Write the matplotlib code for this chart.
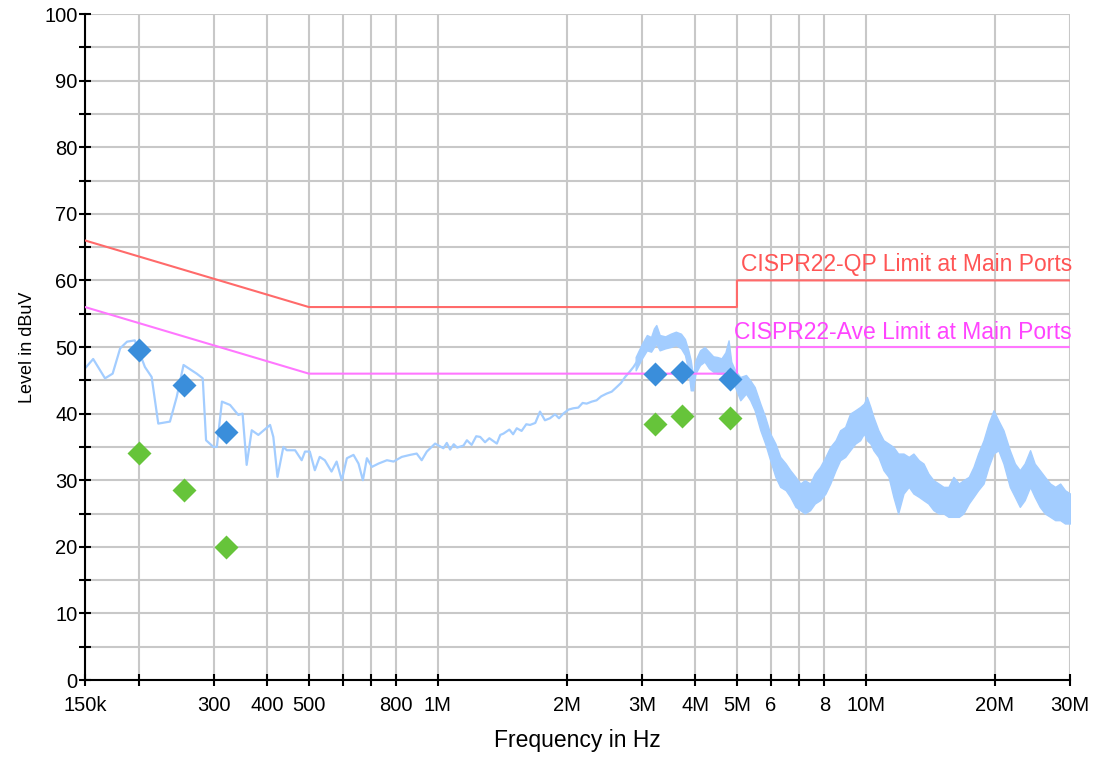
import matplotlib
matplotlib.use("Agg")
import matplotlib.pyplot as plt

plt.rcParams['font.family'] = ['Liberation Sans', 'DejaVu Sans']

# measured trace (MHz, dBuV), clean part below 3 MHz
trace_freq = [0.150, 0.1567, 0.167, 0.174, 0.1812, 0.188, 0.196, 0.207, 0.2146, 0.2224,
              0.2368, 0.2456, 0.2548, 0.2735, 0.2825, 0.2876, 0.2991, 0.3048, 0.3132, 0.3272,
              0.3421, 0.350, 0.3578, 0.3677, 0.381, 0.4058, 0.413, 0.4223, 0.4359, 0.444,
              0.4643, 0.481, 0.4897, 0.5025, 0.5163, 0.530, 0.5448, 0.5648, 0.5805, 0.5967,
              0.6134, 0.6357, 0.653, 0.6686, 0.6832, 0.7018, 0.7273, 0.7609, 0.7885, 0.824,
              0.8616, 0.893, 0.9173, 0.943, 0.986, 1.031, 1.05, 1.069, 1.09, 1.11,
              1.1486, 1.17, 1.20, 1.23, 1.2565, 1.29, 1.32, 1.3744, 1.40, 1.4243,
              1.47, 1.50, 1.53, 1.57, 1.61, 1.6434, 1.69, 1.7335, 1.78, 1.829,
              1.88, 1.92, 1.965, 2.02, 2.073, 2.13, 2.18, 2.228, 2.29, 2.35,
              2.41, 2.48, 2.55, 2.62, 2.68, 2.74, 2.80, 2.866, 2.92]
trace_level = [46.8, 48.2, 45.3, 46.0, 49.8, 50.8, 51.0, 47.0, 45.5, 38.5,
               38.8, 42.5, 47.3, 46.0, 45.3, 36.0, 35.0, 35.0, 41.8, 41.3,
               39.8, 40.0, 32.3, 37.5, 36.8, 38.3, 36.5, 30.5, 35.0, 34.5,
               34.5, 33.0, 34.3, 34.3, 31.5, 33.5, 33.0, 31.3, 32.8, 30.0,
               33.3, 33.8, 32.5, 30.0, 33.3, 32.0, 32.5, 33.0, 32.8, 33.5,
               33.8, 34.0, 33.0, 34.3, 35.5, 34.8, 35.6, 34.6, 35.4, 34.9,
               35.2, 36.0, 35.3, 36.6, 36.5, 35.7, 36.3, 35.5, 36.8, 37.0,
               37.6, 36.9, 37.8, 37.4, 38.4, 38.3, 38.6, 40.3, 39.0, 39.3,
               39.9, 39.3, 40.0, 40.6, 40.8, 40.9, 41.6, 41.5, 41.8, 42.0,
               42.6, 43.0, 43.3, 44.0, 44.6, 45.5, 46.2, 47.0, 47.8]

# noisy part above ~3 MHz: upper / lower edge of the trace band
band_freq = [2.90, 3.0, 3.08, 3.15, 3.2, 3.24, 3.3, 3.4, 3.5, 3.6,
             3.7, 3.78, 3.85, 3.9, 3.95, 4.0, 4.1, 4.2, 4.3, 4.4,
             4.5, 4.6, 4.7, 4.78, 4.85, 4.95, 5.09, 5.25, 5.37, 5.5,
             5.67, 5.82, 5.98, 6.15, 6.31, 6.5, 6.66, 6.85, 7.03, 7.2,
             7.41, 7.6, 7.82, 8.05, 8.26, 8.5, 8.71, 8.95, 9.19, 9.45,
             9.70, 9.9, 10.06, 10.25, 10.42, 10.7, 11.0, 11.3, 11.6, 11.9,
             12.25, 12.6, 12.92, 13.3, 13.64, 14.0, 14.39, 14.8, 15.19, 15.6,
             16.02, 16.5, 16.9, 17.4, 17.85, 18.3, 18.84, 19.35, 19.88, 20.4,
             20.97, 21.7, 22.3, 22.9, 23.5, 24.2, 24.8, 25.5, 26.2, 26.96,
             27.7, 28.45, 29.2, 30.0]
band_hi = [48.5, 50.5, 51.8, 51.5, 52.8, 53.3, 51.8, 51.6, 52.0, 52.3,
           52.0, 51.2, 49.5, 48.0, 45.5, 48.0, 49.5, 50.0, 49.3, 48.6,
           48.5, 48.3, 49.2, 51.0, 47.8, 46.5, 45.5, 45.8, 45.0, 44.0,
           41.5, 39.5, 37.0, 35.5, 33.5, 32.5, 31.5, 30.5, 29.5, 30.0,
           29.5, 31.0, 32.0, 33.5, 35.0, 36.0, 37.5, 38.0, 40.0, 40.5,
           41.0, 41.5, 42.5, 41.0, 39.5, 37.5, 36.0, 35.5, 35.0, 34.0,
           34.0, 33.5, 34.0, 33.0, 32.5, 31.0, 30.0, 29.5, 29.0, 29.0,
           30.5, 29.5, 30.0, 30.5, 32.0, 34.0, 36.0, 38.5, 40.5, 39.0,
           37.5, 34.5, 32.5, 31.5, 32.5, 34.5, 32.5, 31.5, 30.5, 29.5,
           29.0, 29.5, 28.5, 28.0]
band_lo = [46.5, 48.3, 49.5, 49.3, 50.0, 50.5, 49.5, 49.8, 50.0, 50.3,
           49.8, 48.8, 46.5, 43.5, 43.5, 46.0, 47.3, 47.8, 46.8, 46.3,
           46.0, 46.0, 46.5, 46.5, 45.0, 44.0, 42.0, 43.0, 42.0, 40.5,
           37.5, 35.5, 33.0, 30.5, 29.0, 28.5, 27.5, 26.0, 25.5, 25.0,
           25.5, 26.5, 27.0, 28.0, 29.5, 31.5, 33.0, 33.5, 34.5, 35.5,
           36.0, 37.0, 36.0, 35.5, 34.5, 33.5, 31.5, 30.5, 27.5, 25.0,
           28.0, 29.0, 28.0, 27.5, 27.0, 26.5, 25.5, 25.0, 25.0, 24.5,
           24.5, 24.5, 25.0, 26.5, 27.5, 28.5, 29.5, 32.0, 34.0, 34.5,
           32.5, 29.0, 27.5, 26.0, 27.0, 29.0, 27.5, 26.0, 25.0, 24.5,
           24.0, 24.0, 23.5, 23.5]

# limits
qp_freq = [0.15, 0.5, 5, 5, 30]
qp_level = [66, 56, 56, 60, 60]
ave_freq = [0.15, 0.5, 5, 5, 30]
ave_level = [56, 46, 46, 50, 50]

# final measurement points
final_freq = [0.200, 0.255, 0.320, 3.22, 3.72, 4.82]
qp_final = [49.5, 44.3, 37.3, 45.9, 46.2, 45.2]
ave_final = [34.1, 28.5, 20.0, 38.4, 39.6, 39.3]

xticks = [0.15, 0.2, 0.3, 0.4, 0.5, 0.6, 0.7, 0.8, 1, 2, 3, 4, 5, 6, 7, 8, 10, 20, 30]
xlabels = ['150k', '', '300', '400', '500', '', '', '800', '1M', '2M', '3M', '4M', '5M',
           '6', '', '8', '10M', '20M', '30M']

trace_col = '#a3cdff'

fig = plt.figure(figsize=(10.96, 7.58), dpi=100)
ax = fig.add_axes([0.0776, 0.1029, 0.8987, 0.8786])

ax.plot(trace_freq, trace_level, color=trace_col, lw=1.6, zorder=2)
ax.fill_between(band_freq, band_lo, band_hi, color=trace_col, lw=1.0, zorder=2)

ax.plot(qp_freq, qp_level, color='#ff6a6a', lw=1.5, zorder=3)
ax.plot(ave_freq, ave_level, color='#ff77ff', lw=1.5, zorder=3)
ax.text(5.12, 62.4, 'CISPR22-QP Limit at Main Ports', color='#ff5555', fontsize=16.5,
        va='center', ha='left')
ax.text(4.92, 52.2, 'CISPR22-Ave Limit at Main Ports', color='#ff44ff', fontsize=16.5,
        va='center', ha='left')

ax.plot(final_freq, qp_final, 'D', color='#3a8edb', ms=12, mec='none', zorder=4)
ax.plot(final_freq, ave_final, 'D', color='#66c43a', ms=12, mec='none', zorder=4)

ax.set_xscale('log')
ax.set_xlim(0.15, 30)
ax.set_ylim(0, 100)
ax.set_xticks(xticks)
ax.set_xticklabels(xlabels)
ax.minorticks_off()
ax.set_yticks(range(0, 101, 10))
ax.set_yticks(range(5, 100, 10), minor=True)

ax.grid(True, which='both', color='#c8c8c8', lw=1.5, zorder=0)
ax.set_axisbelow(True)
for s in ['top', 'right']:
    ax.spines[s].set_visible(False)
for s in ['left', 'bottom']:
    ax.spines[s].set_linewidth(1.5)
ax.tick_params(axis='both', which='both', direction='inout', length=9, width=1.5,
               labelsize=14.5, colors='black')
ax.tick_params(axis='x', pad=7)
ax.tick_params(axis='y', pad=1)

ax.set_xlabel('Frequency in Hz', fontsize=16.5, labelpad=10)
ax.set_ylabel('Level in dBuV', fontsize=13, labelpad=6)

fig.savefig('out.png', dpi=100)
